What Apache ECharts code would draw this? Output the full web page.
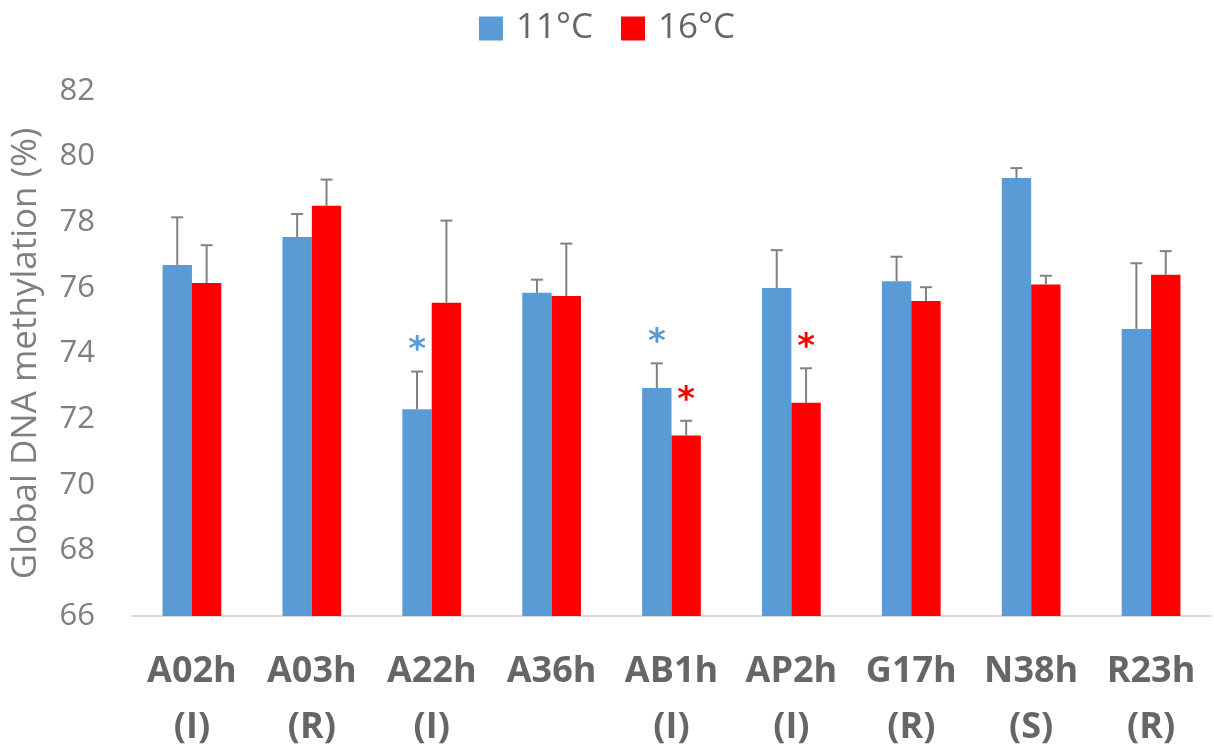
<!DOCTYPE html>
<html>
<head>
<meta charset="utf-8">
<script src="https://cdn.jsdelivr.net/npm/echarts@6/dist/echarts.min.js"></script>
<style>html,body{margin:0;padding:0;background:#fff}#c{width:1214px;height:753px}</style>
</head>
<body>
<div id="c"></div>
<script>
const categories = ['A02h\n(I)', 'A03h\n(R)', 'A22h\n(I)', 'A36h\n', 'AB1h\n(I)', 'AP2h\n(I)', 'G17h\n(R)', 'N38h\n(S)', 'R23h\n(R)'];
const seriesNames = ['11°C', '16°C'];
const values11 = [76.7, 77.55, 72.3, 75.85, 72.95, 76.0, 76.2, 79.35, 74.75];
const values16 = [76.15, 78.5, 75.55, 75.75, 71.5, 72.5, 75.6, 76.1, 76.4];
const err11 = [1.45, 0.7, 1.15, 0.4, 0.75, 1.15, 0.75, 0.3, 2.0];
const err16 = [1.15, 0.8, 2.5, 1.6, 0.45, 1.05, 0.42, 0.27, 0.72];
const sig11 = [0, 0, 1, 0, 1, 0, 0, 0, 0];
const sig16 = [0, 0, 0, 0, 1, 1, 0, 0, 0];
const yTicks = [66, 68, 70, 72, 74, 76, 78, 80, 82];

const colors = ['#5b9bd5', '#ff0000'];
const catGap = 0.51;

function errSeries(vals, errs, sigs, side, color) {
  const data = vals.map((v, i) => [i, v, v + errs[i], sigs[i]]);
  return {
    type: 'custom',
    z: 5,
    silent: true,
    renderItem: function (params, api) {
      const band = api.size([1, 0])[0];
      const bw = band * (1 - catGap) / 2;
      const c = api.coord([api.value(0), api.value(1)]);
      const t = api.coord([api.value(0), api.value(2)]);
      const x = c[0] + side * bw / 2;
      const children = [
        { type: 'line', shape: { x1: x, y1: c[1], x2: x, y2: t[1] }, style: { stroke: '#808080', lineWidth: 2 } },
        { type: 'line', shape: { x1: x - 6, y1: t[1], x2: x + 6, y2: t[1] }, style: { stroke: '#808080', lineWidth: 2 } }
      ];
      if (api.value(3)) {
        children.push({
          type: 'text',
          style: { text: '*', x: x, y: t[1] - 20, align: 'center', verticalAlign: 'middle',
                   fill: color, font: 'bold 34px "DejaVu Sans"' }
        });
      }
      return { type: 'group', children: children };
    },
    data: data
  };
}

const chart = echarts.init(document.getElementById('c'), null, { renderer: 'canvas' });
chart.setOption({
  animation: false,
  backgroundColor: '#ffffff',
  textStyle: { fontFamily: '"Open Sans", "Noto Sans", sans-serif' },
  legend: {
    top: 6,
    left: 'center',
    icon: 'rect',
    itemWidth: 24,
    itemHeight: 24,
    itemGap: 28,
    data: seriesNames,
    textStyle: { fontSize: 35, color: '#666666', padding: [0, 0, 0, 8], fontFamily: '"Open Sans", sans-serif' }
  },
  grid: { left: 132, right: 3, top: 91, bottom: 137, outerBoundsMode: 'none', containLabel: false },
  xAxis: {
    type: 'category',
    data: categories,
    axisLine: { show: true, lineStyle: { color: '#d9d9d9', width: 2 } },
    axisTick: { show: false },
    axisLabel: {
      interval: 0,
      margin: 28,
      fontSize: 36,
      fontWeight: 'bold',
      color: '#666666',
      lineHeight: 56,
      fontFamily: '"Open Sans", sans-serif'
    }
  },
  yAxis: {
    type: 'value',
    min: 66,
    max: 82,
    interval: 2,
    name: 'Global DNA methylation (%)',
    nameLocation: 'middle',
    nameGap: 88,
    nameRotate: 90,
    nameTextStyle: { fontSize: 35, color: '#7f7f7f', fontFamily: '"Open Sans", sans-serif' },
    axisLine: { show: false },
    axisTick: { show: false },
    splitLine: { show: false },
    axisLabel: { fontSize: 31, color: '#7f7f7f', margin: 37, fontFamily: '"Open Sans", sans-serif',
      formatter: function (v) { return yTicks.indexOf(v) >= 0 ? String(v) : ''; } }
  },
  series: [
    { name: seriesNames[0], type: 'bar', data: values11, barGap: '0%', barCategoryGap: '51%',
      itemStyle: { color: colors[0] } },
    { name: seriesNames[1], type: 'bar', data: values16, barGap: '0%', barCategoryGap: '51%',
      itemStyle: { color: colors[1] } },
    errSeries(values11, err11, sig11, -1, colors[0]),
    errSeries(values16, err16, sig16, 1, colors[1])
  ]
});
</script>
</body>
</html>
